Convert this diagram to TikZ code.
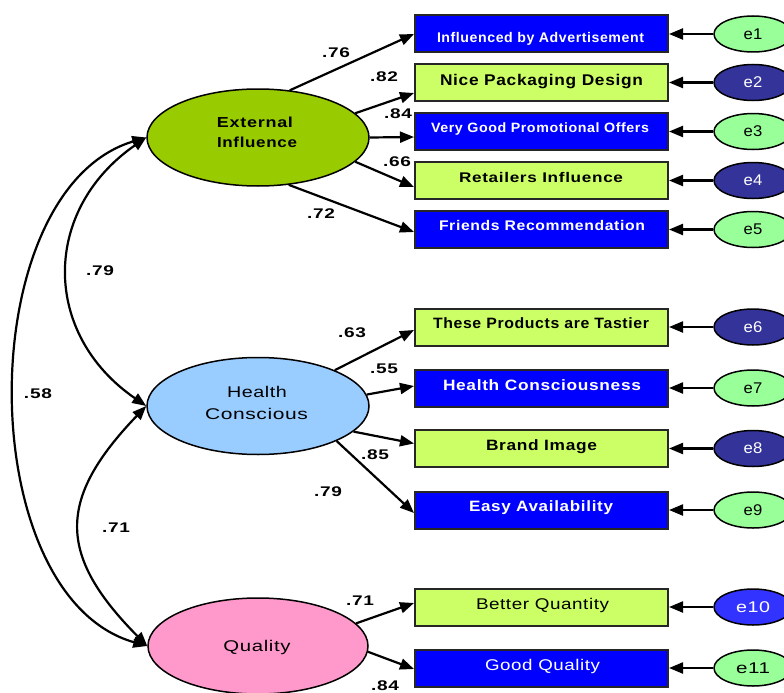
\documentclass[tikz,border=0pt]{standalone}
\usepackage{fontspec}
\setmainfont{Liberation Sans}
\usepackage{graphicx}
\usetikzlibrary{shapes.geometric,arrows.meta}
\definecolor{exgreen}{HTML}{99CC00}
\definecolor{hcblue}{HTML}{99CCFF}
\definecolor{qupink}{HTML}{FF99CC}
\definecolor{boxblue}{HTML}{0000FF}
\definecolor{boxgreen}{HTML}{CCFF66}
\definecolor{elight}{HTML}{99FF99}
\definecolor{edark}{HTML}{333399}
\definecolor{emid}{HTML}{3333FF}
\newcommand{\fitw}[2]{\resizebox{#1}{\height}{#2}}
\newcommand{\bfs}[1]{\fontsize{#1}{#1}\selectfont\bfseries\addfontfeature{LetterSpace=4}}
\newcommand{\rgs}[1]{\fontsize{#1}{#1}\selectfont\addfontfeature{LetterSpace=3}}
\begin{document}
\begin{tikzpicture}[x=1pt,y=-1pt,
  lat/.style={ellipse, draw=black, line width=1.5pt, minimum width=222pt, minimum height=97pt, inner sep=0pt},
  obsB/.style={rectangle, draw=black!85, line width=2pt, fill=boxblue, minimum width=253pt, minimum height=37pt, inner sep=0pt},
  obsG/.style={rectangle, draw=black!85, line width=2pt, fill=boxgreen, minimum width=253pt, minimum height=37pt, inner sep=0pt},
  errL/.style={ellipse, draw=black, line width=1.5pt, fill=elight, minimum width=78pt, minimum height=36pt, inner sep=0pt, text=black, font=\rgs{15.5}},
  errD/.style={ellipse, draw=black, line width=1.5pt, fill=edark, minimum width=78pt, minimum height=36pt, inner sep=0pt, text=white, font=\rgs{15.5}},
  wtxt/.style={anchor=base, inner sep=0pt, text=white},
  ktxt/.style={anchor=base, inner sep=0pt, text=black},
  coef/.style={inner sep=0pt, text=black, font=\bfs{14}},
  arr/.style={line width=2.2pt, -{Triangle[length=14pt,width=11pt]}},
  cov/.style={line width=2.2pt, {Triangle[length=14pt,width=11pt]}-{Triangle[length=14pt,width=11pt]}}
]
\clip (0,0) rectangle (784,693);
\fill[white] (0,0) rectangle (784,693);

% latent variables
\node[lat, fill=exgreen] (EI) at (258,137.5) {};
\node[lat, fill=hcblue] (HC) at (258,406) {};
\node[lat, fill=qupink, minimum width=220pt, minimum height=96pt] (QU) at (258,646) {};
\node[ktxt, font=\bfs{14.5}] (EIa) at (255,127.3) {\fitw{76pt}{External}};
\node[ktxt, font=\bfs{14.5}] (EIb) at (257,147) {\fitw{80pt}{Influence}};
\node[ktxt, font=\rgs{15.5}] (HCa) at (257,397.5) {\fitw{60pt}{Health}};
\node[ktxt, font=\rgs{15.5}] (HCb) at (256.5,419.5) {\fitw{103pt}{Conscious}};
\node[ktxt, font=\rgs{15.5}] (QUa) at (257,651.5) {\fitw{67pt}{Quality}};

% observed variables
\node[obsB] (b1) at (541.5,34) {};
\node[obsG] (b2) at (541.5,82.5) {};
\node[obsB] (b3) at (541.5,131.5) {};
\node[obsG] (b4) at (541.5,180.5) {};
\node[obsB] (b5) at (541.5,229.5) {};
\node[obsG] (b6) at (541.5,327) {};
\node[obsB] (b7) at (541.5,388) {};
\node[obsG] (b8) at (541.5,448.5) {};
\node[obsB] (b9) at (541.5,510) {};
\node[obsG] (b10) at (541.5,607) {};
\node[obsB] (b11) at (541.5,668) {};

\node[wtxt, font=\bfs{14}] (t1) at (540.5,42.7) {\fitw{207pt}{Influenced by Advertisement}};
\node[ktxt, font=\bfs{15.5}] (t2) at (541.5,85.7) {\fitw{203pt}{Nice Packaging Design}};
\node[wtxt, font=\bfs{13.5}] (t3) at (540,132.3) {\fitw{218pt}{Very Good Promotional Offers}};
\node[ktxt, font=\bfs{14}] (t4) at (541,182.3) {\fitw{164pt}{Retailers Influence}};
\node[wtxt, font=\bfs{14}] (t5) at (542,230.7) {\fitw{206pt}{Friends Recommendation}};
\node[ktxt, font=\bfs{15}] (t6) at (541,328.3) {\fitw{216pt}{These Products are Tastier}};
\node[wtxt, font=\bfs{15}] (t7) at (542,390) {\fitw{198pt}{Health Consciousness}};
\node[ktxt, font=\bfs{15}] (t8) at (541.5,450.8) {\fitw{111pt}{Brand Image}};
\node[wtxt, font=\bfs{15}] (t9) at (541,511.6) {\fitw{144pt}{Easy Availability}};
\node[ktxt, font=\rgs{15.5}] (t10) at (542.5,609.5) {\fitw{133pt}{Better Quantity}};
\node[wtxt, font=\rgs{15.5}] (t11) at (542.5,670.5) {\fitw{115pt}{Good Quality}};

% error terms
\node[errL] (e1) at (753,34) {\fitw{19pt}{e1}};
\node[errD] (e2) at (753,82.5) {\fitw{19pt}{e2}};
\node[errL] (e3) at (753,131.5) {\fitw{19pt}{e3}};
\node[errD] (e4) at (753,180.5) {\fitw{19pt}{e4}};
\node[errL] (e5) at (753,229.5) {\fitw{19pt}{e5}};
\node[errD] (e6) at (753,327) {\fitw{19pt}{e6}};
\node[errL] (e7) at (753,388) {\fitw{19pt}{e7}};
\node[errD] (e8) at (753,448.5) {\fitw{19pt}{e8}};
\node[errL] (e9) at (753,510) {\fitw{19pt}{e9}};
\node[errD, fill=emid] (e10) at (753,607) {\fitw{34pt}{e10}};
\node[errL] (e11) at (753,668) {\fitw{34pt}{e11}};

\foreach \i in {1,...,11} {\draw[arr] (e\i.west) -- (b\i.east);}

% loadings
\draw[arr] (EI.56.6) -- (b1.west);
\draw[arr] (EI.14.5) -- ([yshift=-10.5pt]b2.west);
\draw[arr] (EI.0) -- ([yshift=-5.5pt]b3.west);
\draw[arr] (EI.-14.7) -- ([yshift=-6.5pt]b4.west);
\draw[arr] (EI.-57) -- ([yshift=-2.5pt]b5.west);
\draw[arr] (HC.25) -- ([yshift=-3pt]b6.west);
\draw[arr] (HC.6) -- ([yshift=2pt]b7.west);
\draw[arr] (HC.-15) -- ([yshift=5pt]b8.west);
\draw[arr] (HC.-24.5) -- ([yshift=-3pt]b9.west);
\draw[arr] (QU.13) -- ([yshift=4pt]b10.west);
\draw[arr] (QU.-3) -- ([yshift=-1pt]b11.west);

% covariances
\draw[cov] (EI.west) .. controls (41.5,210) and (41.5,334) .. (HC.west);
\draw[cov] (HC.west) .. controls (57,499) and (57,555) .. (QU.west);
\draw[cov] (EI.west) .. controls (-29,190) and (-29,596) .. (QU.west);

% coefficients
\node[coef] (c1) at (336,53) {\fitw{28pt}{.76}};
\node[coef] (c2) at (384,77) {\fitw{28pt}{.82}};
\node[coef] (c3) at (398,114) {\fitw{28pt}{.84}};
\node[coef] (c4) at (397,162) {\fitw{28pt}{.66}};
\node[coef] (c5) at (321,214) {\fitw{28pt}{.72}};
\node[coef] (c6) at (352,333) {\fitw{28pt}{.63}};
\node[coef] (c7) at (384,369) {\fitw{28pt}{.55}};
\node[coef] (c8) at (375,455) {\fitw{28pt}{.85}};
\node[coef] (c9) at (328,492) {\fitw{28pt}{.79}};
\node[coef] (c10) at (360,601) {\fitw{28pt}{.71}};
\node[coef] (c11) at (385,686) {\fitw{28pt}{.84}};
\node[coef] (c12) at (100,271) {\fitw{28pt}{.79}};
\node[coef] (c13) at (38,394) {\fitw{28pt}{.58}};
\node[coef] (c14) at (116,528) {\fitw{28pt}{.71}};
\end{tikzpicture}
\end{document}
